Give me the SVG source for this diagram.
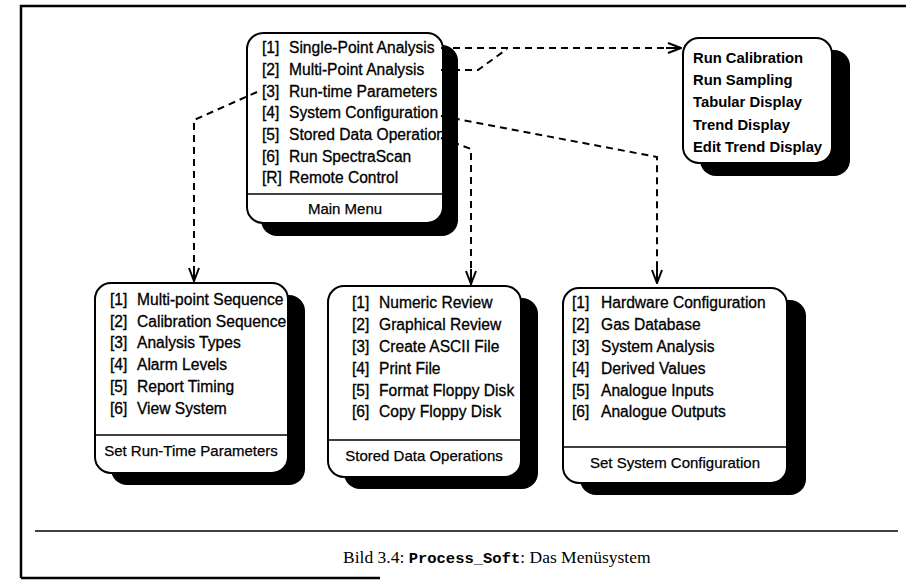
<svg xmlns="http://www.w3.org/2000/svg" width="906" height="583" viewBox="0 0 906 583">
<style>
.shadow{fill:#000}
.box{fill:#fff;stroke:#000;stroke-width:2}
.sep{stroke:#000;stroke-width:1.5}
.item{font-family:"Liberation Sans",Arial,sans-serif;font-size:15.6px;fill:#000;stroke:#000;stroke-width:0.3}
.bold{font-family:"Liberation Sans",Arial,sans-serif;font-size:14.8px;font-weight:bold;fill:#000}
.lbl{font-family:"Liberation Sans",Arial,sans-serif;font-size:15px;fill:#000;stroke:#000;stroke-width:0.25;text-anchor:middle}
.conn{fill:none;stroke:#000;stroke-width:2;stroke-dasharray:7 5}
.frame{fill:none;stroke:#000;stroke-width:2.5}
</style>
<defs>
<marker id="arr" markerWidth="16" markerHeight="14" refX="15" refY="7" orient="auto" markerUnits="userSpaceOnUse" viewBox="0 0 16 14">
<polyline points="2,2 15,7 2,12" fill="none" stroke="#000" stroke-width="2"/>
<line x1="0" y1="7" x2="15" y2="7" stroke="#000" stroke-width="2"/>
</marker>
</defs>

<g id="frame">
<path class="frame" d="M21,578 V6 H906"/>
<line x1="21" y1="578" x2="380" y2="578" stroke="#000" stroke-width="2.5"/>
<line x1="35" y1="531" x2="898" y2="531" stroke="#000" stroke-width="1.5"/>
</g>

<g id="main-menu">
<rect class="shadow" x="261" y="45" width="197" height="191" rx="16"/>
<rect class="box" x="247" y="33" width="196" height="190" rx="16"/>
<line class="sep" x1="247" y1="194" x2="443" y2="194"/>
<text class="item" y="53"><tspan x="262">[1]</tspan><tspan x="289">Single-Point Analysis</tspan></text>
<text class="item" y="75"><tspan x="262">[2]</tspan><tspan x="289">Multi-Point Analysis</tspan></text>
<text class="item" y="97"><tspan x="262">[3]</tspan><tspan x="289">Run-time Parameters</tspan></text>
<text class="item" y="118"><tspan x="262">[4]</tspan><tspan x="289">System Configuration</tspan></text>
<text class="item" y="140"><tspan x="262">[5]</tspan><tspan x="289">Stored Data Operation</tspan></text>
<text class="item" y="162"><tspan x="262">[6]</tspan><tspan x="289">Run SpectraScan</tspan></text>
<text class="item" y="183"><tspan x="262">[R]</tspan><tspan x="289">Remote Control</tspan></text>
<text class="lbl" x="345" y="214">Main Menu</text>
</g>

<g id="run-box">
<rect class="shadow" x="700" y="50" width="150" height="126" rx="16"/>
<rect class="box" x="683" y="38" width="149" height="125" rx="16"/>
<text class="bold" x="693" y="63">Run Calibration</text>
<text class="bold" x="693" y="85">Run Sampling</text>
<text class="bold" x="693" y="107">Tabular Display</text>
<text class="bold" x="693" y="130">Trend Display</text>
<text class="bold" x="693" y="152">Edit Trend Display</text>
</g>

<g id="run-time-parameters">
<rect class="shadow" x="111" y="295" width="194" height="190" rx="16"/>
<rect class="box" x="95" y="283" width="193" height="190" rx="16"/>
<line class="sep" x1="95" y1="435" x2="288" y2="435"/>
<text class="item" y="305"><tspan x="110">[1]</tspan><tspan x="137">Multi-point Sequence</tspan></text>
<text class="item" y="327"><tspan x="110">[2]</tspan><tspan x="137">Calibration Sequence</tspan></text>
<text class="item" y="348"><tspan x="110">[3]</tspan><tspan x="137">Analysis Types</tspan></text>
<text class="item" y="370"><tspan x="110">[4]</tspan><tspan x="137">Alarm Levels</tspan></text>
<text class="item" y="392"><tspan x="110">[5]</tspan><tspan x="137">Report Timing</tspan></text>
<text class="item" y="414"><tspan x="110">[6]</tspan><tspan x="137">View System</tspan></text>
<text class="lbl" x="191" y="456">Set Run-Time Parameters</text>
</g>

<g id="stored-data">
<rect class="shadow" x="344" y="298" width="194" height="191" rx="16"/>
<rect class="box" x="328" y="286" width="193" height="191" rx="16"/>
<line class="sep" x1="328" y1="440" x2="521" y2="440"/>
<text class="item" y="308"><tspan x="352">[1]</tspan><tspan x="379">Numeric Review</tspan></text>
<text class="item" y="330"><tspan x="352">[2]</tspan><tspan x="379">Graphical Review</tspan></text>
<text class="item" y="352"><tspan x="352">[3]</tspan><tspan x="379">Create ASCII File</tspan></text>
<text class="item" y="374"><tspan x="352">[4]</tspan><tspan x="379">Print File</tspan></text>
<text class="item" y="396"><tspan x="352">[5]</tspan><tspan x="379">Format Floppy Disk</tspan></text>
<text class="item" y="417"><tspan x="352">[6]</tspan><tspan x="379">Copy Floppy Disk</tspan></text>
<text class="lbl" x="424" y="461">Stored Data Operations</text>
</g>

<g id="system-config">
<rect class="shadow" x="580" y="300" width="226" height="195" rx="16"/>
<rect class="box" x="563" y="288" width="224" height="195" rx="16"/>
<line class="sep" x1="563" y1="447" x2="787" y2="447"/>
<text class="item" y="308"><tspan x="572">[1]</tspan><tspan x="601">Hardware Configuration</tspan></text>
<text class="item" y="330"><tspan x="572">[2]</tspan><tspan x="601">Gas Database</tspan></text>
<text class="item" y="352"><tspan x="572">[3]</tspan><tspan x="601">System Analysis</tspan></text>
<text class="item" y="374"><tspan x="572">[4]</tspan><tspan x="601">Derived Values</tspan></text>
<text class="item" y="396"><tspan x="572">[5]</tspan><tspan x="601">Analogue Inputs</tspan></text>
<text class="item" y="417"><tspan x="572">[6]</tspan><tspan x="601">Analogue Outputs</tspan></text>
<text class="lbl" x="675" y="468">Set System Configuration</text>
</g>

<g id="connectors">
<path class="conn" d="M441,48 H681" marker-end="url(#arr)"/>
<path class="conn" d="M441,70 H478 L507,49"/>
<path class="conn" d="M441,116 L657,157 V283" marker-end="url(#arr)"/>
<path class="conn" d="M441,138 L471,149 V284" marker-end="url(#arr)"/>
<path class="conn" d="M257,92 L194,120 V281" marker-end="url(#arr)"/>
</g>

<g id="caption">
<text x="343" y="563" font-family="'Liberation Serif','Times New Roman',serif" font-size="17.5" fill="#000">Bild 3.4: <tspan font-family="'Liberation Mono','Courier New',monospace" font-weight="bold" font-size="15.5">Process_Soft</tspan>: Das Menüsystem</text>
</g>
</svg>
